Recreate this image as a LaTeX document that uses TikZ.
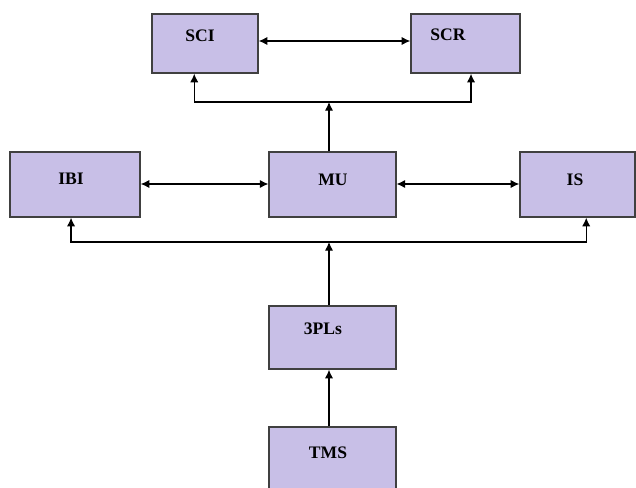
\documentclass[tikz,border=0pt]{standalone}
\usepackage{fontspec}
\setmainfont{Liberation Serif}
\usetikzlibrary{calc}
\usetikzlibrary{arrows.meta}
\definecolor{boxfill}{RGB}{200,191,231}
\definecolor{boxline}{RGB}{64,64,64}

\begin{document}
\begin{tikzpicture}[x=0.03cm,y=-0.03cm,blk/.style={rectangle, draw=boxline, fill=boxfill, line width=1.2pt, inner sep=0pt}]
    \tikzset{txt/.style={inner sep=0pt, font=\fontsize{15}{17}\selectfont\bfseries}}
    \tikzset{link/.style={line width=1.1pt, black, >={Latex[length=2.6mm,width=2.5mm]}}}
    \useasboundingbox (0,0) rectangle (636,488);
    \def \bh {1.95cm} \def \bw {3.8cm}
    
    \node[blk, minimum width=3.18cm, minimum height=1.77cm] (sci) at (205,43.5) {};
    \node[blk, minimum width=3.27cm, minimum height=1.77cm] (scr) at (465.5,43.5) {};
    
    \node[blk, minimum width=3.9cm, minimum height=\bh] (ibi) at (75,184.5) {};
    \node[blk, minimum width=\bw, minimum height=\bh] (mu) at (332.5,184.5) {};
    \node[blk, minimum width=3.45cm, minimum height=\bh] (is) at (577.5,184.5) {};
    
    \node[blk, minimum width=\bw, minimum height=1.89cm] (pls) at (332.5,337.5) {};
    \node[blk, minimum width=\bw, minimum height=2.04cm] (tms) at (332.5,461) {};
    
    % texts sit a bit up and left in the boxes
    \node[txt] (scit) at (200,36) {SCI};
    \node[txt] (scrt) at (448,35) {SCR};
    \node[txt] (ibit) at (71,179) {IBI};
    \node[txt] (mut) at (333,180) {MU};
    \node[txt] (ist) at (575,180) {IS};
    \node[txt] (plst) at (323,329) {3PLs};
    \node[txt] (tmst) at (328,453) {TMS};
    
    \coordinate (upj) at (329,102);
    \coordinate (loj) at (329,242);
    
    \draw[link, <->] (sci.east |- 0,41) -- (scr.west |- 0,41);
    \draw[link, <->] (ibi.east |- 0,184) -- (mu.west |- 0,184);
    \draw[link, <->] (mu.east |- 0,184) -- (is.west |- 0,184);
    
    \draw[link, ->] (mu.north -| upj) -- (upj);
    \draw[link, ->] (upj) -| ($(sci.south west)!0.4!(sci.south east)$);
    \draw[link, ->] (upj) -| ($(scr.south west)!0.55!(scr.south east)$);
    
    \draw[link, ->] (pls.north -| loj) -- (loj);
    \draw[link, ->] (loj) -| ($(ibi.south west)!0.47!(ibi.south east)$);
    \draw[link, ->] (loj) -| ($(is.south west)!0.575!(is.south east)$);
    
    \draw[link, ->] (tms.north -| loj) -- (pls.south -| loj);
\end{tikzpicture}
\end{document}
